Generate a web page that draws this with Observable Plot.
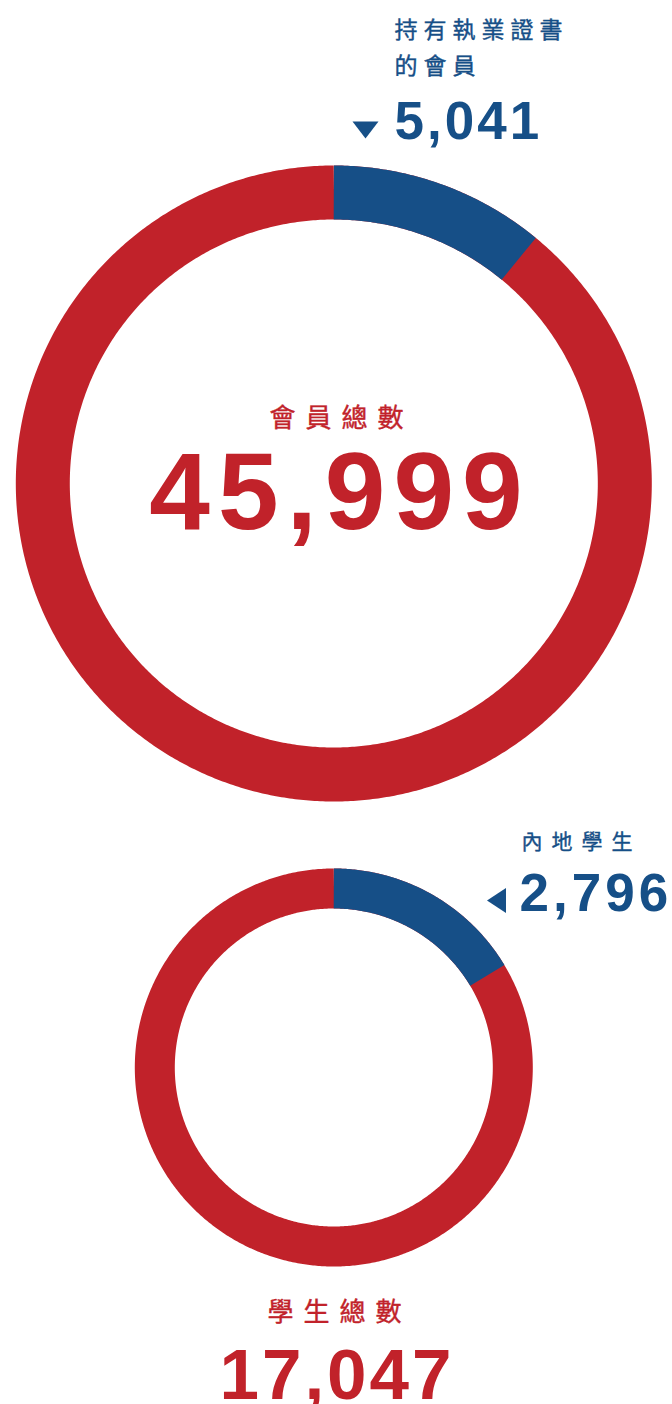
<!DOCTYPE html>
<html>
<head>
<meta charset="utf-8">
<script src="https://cdn.jsdelivr.net/npm/d3@7"></script>
<script src="https://cdn.jsdelivr.net/npm/@observablehq/plot@0.6"></script>
<style>
  html, body { margin: 0; padding: 0; background: #fff; }
  .ls6 text { letter-spacing: 6px; }
  .ls9 text { letter-spacing: 9px; }
  .ls10 text { letter-spacing: 10px; }
  .ls3 text { letter-spacing: 3px; }
  .ls4 text { letter-spacing: 4px; }
  .ls8 text { letter-spacing: 8px; }
</style>
</head>
<body>
<div id="chart"></div>
<script>
// ---- data ----
const totalLabels = ["會員總數", "學生總數"];
const totals = [45999, 17047];
const highlightLabels = [["持有執業證書", "的會員"], ["內地學生"]];
const highlightValues = [5041, 2796];

// ---- style / layout ----
const RED = "#c1222a";
const BLUE = "#164f87";
const W = 672, H = 1404;
const cx = 333.3;
const donuts = [
  {cy: 483, rOuter: 318, rInner: 264},
  {cy: 1067, rOuter: 199, rInner: 159}
];
const CJK = "'Noto Sans CJK TC', 'Noto Sans CJK SC', sans-serif";
const NUM = "'Liberation Sans', Arial, sans-serif";
const LABEL_WEIGHT = 400;
const LABEL_STROKE = 0.4; // emulate a medium weight
const fmt = d3.format(",");

function arcPoints(d, f0, f1) {
  const r = (d.rOuter + d.rInner) / 2;
  const n = Math.max(2, Math.ceil((f1 - f0) * 720));
  const pts = [];
  for (let k = 0; k <= n; k++) {
    const a = 2 * Math.PI * (f0 + (f1 - f0) * k / n);
    pts.push({x: cx + r * Math.sin(a), y: d.cy - r * Math.cos(a)});
  }
  return pts;
}

// custom squat triangle symbol (points up)
function squatTriangle(h) {
  return {
    draw(ctx, size) {
      const r = Math.sqrt(size / Math.PI);
      ctx.moveTo(0, -h / 2);
      ctx.lineTo(r, h / 2);
      ctx.lineTo(-r, h / 2);
      ctx.closePath();
    }
  };
}

const marks = [];
donuts.forEach((d, i) => {
  const frac = highlightValues[i] / totals[i];
  const sw = d.rOuter - d.rInner;
  marks.push(Plot.line(arcPoints(d, 0, 1), {x: "x", y: "y", stroke: RED, strokeWidth: sw, strokeLinecap: "butt", strokeLinejoin: "round"}));
  marks.push(Plot.line(arcPoints(d, 0, frac), {x: "x", y: "y", stroke: BLUE, strokeWidth: sw, strokeLinecap: "butt", strokeLinejoin: "round"}));
});

const labelStyle = (color) => ({fill: color, stroke: color, strokeWidth: LABEL_STROKE, fontFamily: CJK, fontWeight: LABEL_WEIGHT, lineAnchor: "bottom"});

// Donut 1 labels
marks.push(Plot.text([totalLabels[0]], {x: () => 336 + 5, y: () => 426, text: d => d, fontSize: 26, textAnchor: "middle", className: "ls10", ...labelStyle(RED)}));
marks.push(Plot.text([totals[0]], {x: () => 335.5 + 4, y: () => 528, text: d => fmt(d), fill: RED, fontSize: 109, fontFamily: NUM, fontWeight: "bold", textAnchor: "middle", lineAnchor: "bottom", className: "ls8"}));
marks.push(Plot.text(highlightLabels[0], {x: () => 394, y: (d, k) => 37 + k * 36, text: d => d, fontSize: 23, textAnchor: "start", className: "ls6", ...labelStyle(BLUE)}));
marks.push(Plot.text([highlightValues[0]], {x: () => 394, y: () => 138, text: d => fmt(d), fill: BLUE, fontSize: 53, fontFamily: NUM, fontWeight: "bold", textAnchor: "start", lineAnchor: "bottom", className: "ls3"}));
marks.push(Plot.dot([highlightValues[0]], {x: () => 365, y: () => 129.5, r: 13, symbol: squatTriangle(17), rotate: 180, fill: BLUE, stroke: null}));

// Donut 2 labels
marks.push(Plot.text(highlightLabels[1], {x: () => 521, y: (d, k) => 848 + k * 36, text: d => d, fontSize: 21, textAnchor: "start", className: "ls9", ...labelStyle(BLUE)}));
marks.push(Plot.text([highlightValues[1]], {x: () => 519, y: () => 910, text: d => fmt(d), fill: BLUE, fontSize: 53, fontFamily: NUM, fontWeight: "bold", textAnchor: "start", lineAnchor: "bottom", className: "ls4"}));
marks.push(Plot.dot([highlightValues[1]], {x: () => 496, y: () => 900, r: 12.5, symbol: squatTriangle(19), rotate: -90, fill: BLUE, stroke: null}));

marks.push(Plot.text([totalLabels[1]], {x: () => 334 + 5, y: () => 1320, text: d => d, fontSize: 26, textAnchor: "middle", className: "ls10", ...labelStyle(RED)}));
marks.push(Plot.text([totals[1]], {x: () => 335 + 1.5, y: () => 1398, text: d => fmt(d), fill: RED, fontSize: 71, fontFamily: NUM, fontWeight: "bold", textAnchor: "middle", lineAnchor: "bottom", className: "ls3"}));

const chart = Plot.plot({
  width: W,
  height: H,
  margin: 0,
  x: {domain: [0, W], range: [0, W], axis: null},
  y: {domain: [0, H], range: [0, H], axis: null},
  style: {background: "#fff", overflow: "visible"},
  marks
});
document.getElementById("chart").appendChild(chart);
</script>
</body>
</html>
